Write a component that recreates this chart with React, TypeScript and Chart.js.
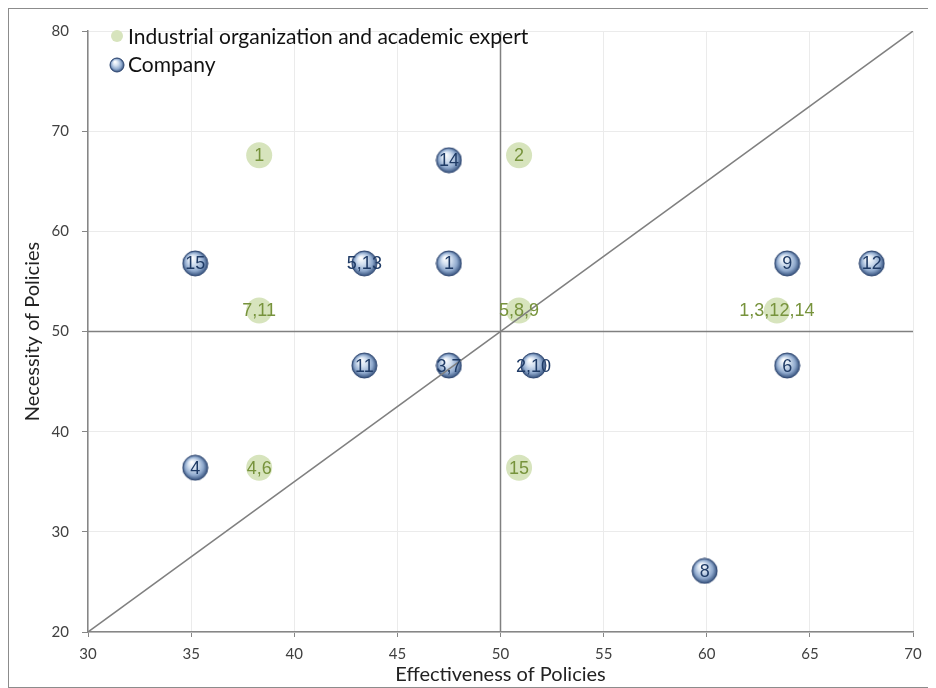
import React, { useEffect, useRef } from 'react';
import { Chart, registerables } from 'chart.js';

Chart.register(...registerables);

// Company (blue spheres)
const companyLabels = ['1', '2,10', '3,7', '4', '5,13', '6', '8', '9', '11', '12', '14', '15'];
const companyX = [47.5, 51.6, 47.5, 35.2, 43.4, 63.9, 59.9, 63.9, 43.4, 68.0, 47.5, 35.2];
const companyY = [56.8, 46.6, 46.6, 36.4, 56.8, 46.6, 26.1, 56.8, 46.6, 56.8, 67.1, 56.8];

// Industrial organization and academic expert (green circles)
const expertLabels = ['1', '2', '4,6', '5,8,9', '7,11', '15', '1,3,12,14'];
const expertX = [38.3, 50.9, 38.3, 50.9, 38.3, 50.9, 63.4];
const expertY = [67.6, 67.6, 36.4, 52.1, 52.1, 36.4, 52.1];

// Reference lines
const hLineX = [30, 70];
const hLineY = [50, 50];
const vLineX = [50, 50];
const vLineY = [20, 80];
const diagX = [30, 70];
const diagY = [20, 80];

const seriesNames = ['Industrial organization and academic expert', 'Company'];
const xTitle = 'Effectiveness of Policies';
const yTitle = 'Necessity of Policies';

function zip(xs: number[], ys: number[]) {
  return xs.map((x, i) => ({ x, y: ys[i] }));
}

function makeSphere(r: number): HTMLCanvasElement {
  const c = document.createElement('canvas');
  const s = Math.ceil(r * 2 + 2);
  c.width = s;
  c.height = s;
  const g = c.getContext('2d')!;
  const cx = s / 2;
  const cy = s / 2;
  const grad = g.createRadialGradient(cx - r * 0.3, cy - r * 0.45, r * 0.05, cx, cy, r);
  grad.addColorStop(0, '#ffffff');
  grad.addColorStop(0.35, '#d3e0f0');
  grad.addColorStop(0.72, '#8fa9cd');
  grad.addColorStop(1, '#34507c');
  g.beginPath();
  g.arc(cx, cy, r, 0, Math.PI * 2);
  g.fillStyle = grad;
  g.fill();
  g.lineWidth = 1;
  g.strokeStyle = '#2e4670';
  g.stroke();
  return c;
}

export default function App() {
  const ref = useRef<HTMLCanvasElement>(null);

  useEffect(() => {
    if (!ref.current) return;
    const sphere = makeSphere(12.5);
    const smallSphere = makeSphere(7);

    const labelPlugin = {
      id: 'pointLabels',
      afterDatasetsDraw(chart: any) {
        const ctx = chart.ctx;
        ctx.save();
        ctx.textAlign = 'center';
        ctx.textBaseline = 'middle';
        ctx.font = '18px "Liberation Sans", Arial, sans-serif';
        chart.data.datasets.forEach((ds: any, di: number) => {
          if (!ds.pointLabels) return;
          const meta = chart.getDatasetMeta(di);
          ctx.fillStyle = ds.labelColor;
          meta.data.forEach((el: any, i: number) => {
            ctx.fillText(ds.pointLabels[i], el.x, el.y + 1);
          });
        });
        ctx.restore();
      },
    };

    const legendPlugin = {
      id: 'customLegend',
      afterDraw(chart: any) {
        const ctx = chart.ctx;
        ctx.save();
        ctx.font = '21px Lato, sans-serif';
        ctx.textBaseline = 'middle';
        ctx.textAlign = 'left';
        // row 1
        ctx.beginPath();
        ctx.arc(108, 27, 6, 0, Math.PI * 2);
        ctx.fillStyle = '#d7e4bd';
        ctx.fill();
        ctx.fillStyle = '#111111';
        ctx.fillText(seriesNames[0], 119, 28);
        // row 2
        ctx.drawImage(smallSphere, 108 - smallSphere.width / 2, 56 - smallSphere.height / 2);
        ctx.fillText(seriesNames[1], 119, 56);
        ctx.restore();
      },
    };

    const lineStyle = {
      showLine: true,
      pointRadius: 0,
      pointHoverRadius: 0,
      borderColor: '#808080',
      borderWidth: 1.5,
      order: 0,
    };

    const chart = new Chart(ref.current, {
      type: 'scatter',
      data: {
        datasets: [
          { label: 'h', data: zip(hLineX, hLineY), ...lineStyle } as any,
          { label: 'v', data: zip(vLineX, vLineY), ...lineStyle } as any,
          { label: 'd', data: zip(diagX, diagY), ...lineStyle } as any,
          {
            label: seriesNames[0],
            data: zip(expertX, expertY),
            pointRadius: 13,
            pointBackgroundColor: '#d7e4bd',
            pointBorderWidth: 0,
            pointBorderColor: '#d7e4bd',
            order: 2,
            pointLabels: expertLabels,
            labelColor: '#77933c',
          } as any,
          {
            label: seriesNames[1],
            data: zip(companyX, companyY),
            pointStyle: sphere,
            pointRadius: 13,
            order: 2,
            pointLabels: companyLabels,
            labelColor: '#1f3b66',
          } as any,
        ],
      },
      options: {
        responsive: false,
        animation: false,
        events: [],
        layout: { padding: { top: 18, right: 22, left: 0, bottom: 0 } },
        plugins: {
          legend: { display: false },
          tooltip: { enabled: false },
        },
        scales: {
          x: {
            type: 'linear',
            min: 30,
            max: 70,
            ticks: {
              stepSize: 5,
              padding: 8,
              color: '#404040',
              font: { family: 'Lato, sans-serif', size: 15 },
            },
            grid: { color: '#ebebeb', tickColor: '#868686', tickLength: 5 },
            border: { color: '#868686', width: 1.5 },
            title: {
              display: true,
              text: xTitle,
              color: '#222222',
              font: { family: 'Lato, sans-serif', size: 20 },
              padding: { top: 0, bottom: 0 },
            },
            afterFit: (s: any) => {
              s.height = 55;
            },
          },
          y: {
            type: 'linear',
            min: 20,
            max: 80,
            ticks: {
              stepSize: 10,
              padding: 13,
              color: '#404040',
              font: { family: 'Lato, sans-serif', size: 15 },
            },
            grid: { color: '#ebebeb', tickColor: '#868686', tickLength: 6 },
            border: { color: '#868686', width: 1.5 },
            title: {
              display: true,
              text: yTitle,
              color: '#222222',
              font: { family: 'Lato, sans-serif', size: 20 },
              padding: { top: 12, bottom: 0 },
            },
            afterFit: (s: any) => {
              s.width = 79;
            },
          },
        },
      } as any,
      plugins: [labelPlugin, legendPlugin],
    });
    return () => chart.destroy();
  }, []);

  return (
    <div
      style={{
        width: 926,
        height: 678,
        border: '1px solid #8c8c8c',
        background: '#ffffff',
      }}
    >
      <canvas ref={ref} width={926} height={678} style={{ display: 'block' }} />
    </div>
  );
}
